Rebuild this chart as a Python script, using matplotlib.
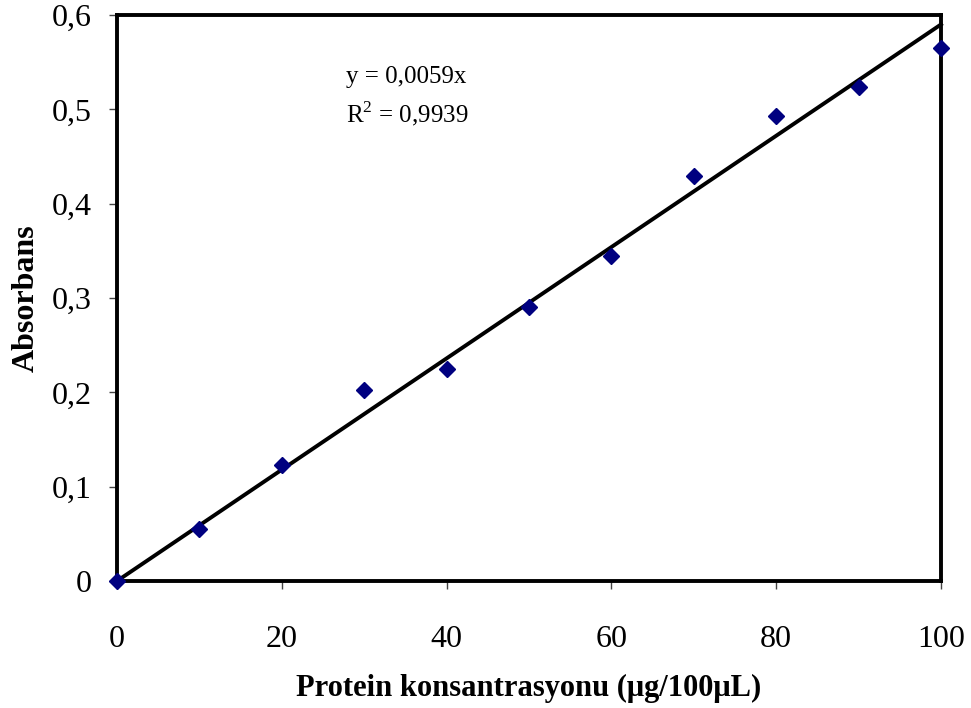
import matplotlib.pyplot as plt
import numpy as np

plt.rcParams["font.family"] = ["Liberation Serif", "DejaVu Serif"]
plt.rcParams["mathtext.fontset"] = "custom"
plt.rcParams["mathtext.rm"] = "Liberation Serif"

# protein standard curve
conc = np.array([0, 10, 20, 30, 40, 50, 60, 70, 80, 90, 100])
absorb = np.array([0.0, 0.055, 0.123, 0.202, 0.225, 0.290, 0.345, 0.429, 0.493, 0.524, 0.565])
x_ticks = [0, 20, 40, 60, 80, 100]
y_ticks = [0, 0.1, 0.2, 0.3, 0.4, 0.5, 0.6]
y_tick_labels = ["0", "0,1", "0,2", "0,3", "0,4", "0,5", "0,6"]

# linear fit forced through the origin, as in the Excel trendline
slope = 0.0059
fit_x = np.array([0, 100])
fit_y = slope * fit_x

fig = plt.figure(figsize=(9.71, 7.08), dpi=100)
ax = fig.add_axes([117 / 971, 1 - 581 / 708, (941 - 117) / 971, (581 - 15) / 708])

ax.plot(fit_x, fit_y, color="black", linewidth=2.8, zorder=3, clip_on=False)
ax.plot(conc, absorb, linestyle="none", marker="D", markersize=8.5,
        color="#000080", zorder=4, clip_on=False)

ax.set_xlim(0, 100)
ax.set_ylim(0, 0.6)
ax.set_xticks(x_ticks)
ax.set_yticks(y_ticks)
ax.set_yticklabels(y_tick_labels)

for s in ax.spines.values():
    s.set_linewidth(2.8)
ax.tick_params(direction="out", length=6, width=1, color="#444444", labelsize=23)
ax.tick_params(axis="x", pad=26)
ax.tick_params(axis="y", pad=12)

ax.set_xlabel("Protein konsantrasyonu (\u03bcg/100\u03bcL)", fontsize=22,
              fontweight="bold", labelpad=14)
ax.set_ylabel("Absorbans", fontsize=23, fontweight="bold", labelpad=8)

ax.text(0.278, 0.89, "y = 0,0059x", transform=ax.transAxes, fontsize=18, va="center")
ax.text(0.278, 0.826, "R$^{2}$ = 0,9939", transform=ax.transAxes, fontsize=18, va="center")

fig.savefig("out.png", dpi=100)
